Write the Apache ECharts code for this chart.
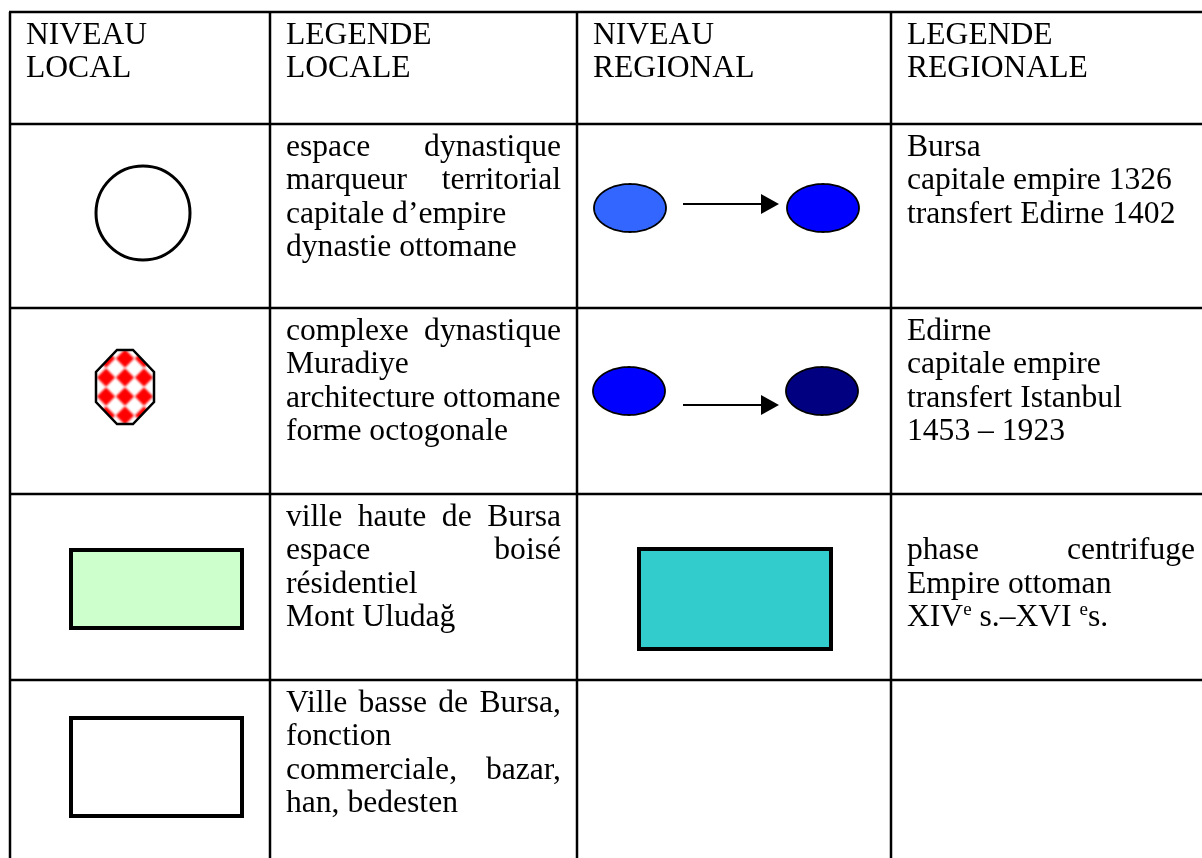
<!DOCTYPE html>
<html><head><meta charset="utf-8">
<script src="https://cdn.jsdelivr.net/npm/echarts@6/dist/echarts.min.js"></script>
<style>html,body{margin:0;padding:0;background:#fff}#c{width:1202px;height:858px}</style>
</head><body><div id="c"></div>
<script>
// ---------- DATA ----------
const columnHeaders = [['NIVEAU','LOCAL'],['LEGENDE','LOCALE'],['NIVEAU','REGIONAL'],['LEGENDE','REGIONALE']];
const localSymbols = ['circle','octagon','rectGreen','rectWhite'];
const localLegend = [
  ['espace dynastique','marqueur territorial','capitale d’empire','dynastie ottomane'],
  ['complexe dynastique','Muradiye','architecture ottomane','forme octogonale'],
  ['ville haute de Bursa','espace boisé','résidentiel','Mont Uludağ'],
  ['Ville basse de Bursa,','fonction','commerciale, bazar,','han, bedesten']
];
const localJustified = [[1,1,0,0],[1,0,0,0],[1,1,0,0],[1,0,1,0]];
const regionalSymbols = ['transfer1','transfer2','rectTeal',null];
const regionalLegend = [
  ['Bursa','capitale empire 1326','transfert Edirne 1402'],
  ['Edirne','capitale empire','transfert Istanbul','1453 – 1923'],
  ['','phase centrifuge','Empire ottoman','XIV{sup|e} s.–XVI {sup|e}s.'],
  []
];
const regionalJustified = [[0,0,0],[0,0,0,0],[0,1,0,0],[]];
const rowIds = [0,1,2,3,4];

// ---------- LAYOUT ----------
const W = 1202, H = 858;
const colEdges = [10, 270, 577, 891, 1211];
const rowEdges = [12, 124, 308, 494, 680, 900];
const FONT_FAMILY = "'Liberation Serif','Times New Roman',serif";
const FS = 31.6, LH = 33.4, FIRST = 23.5, PADL = 16, PADR = 16;
const FONT = FS + 'px ' + FONT_FAMILY;
const mctx = document.createElement('canvas').getContext('2d');
function tw(t){ mctx.font = FONT; return mctx.measureText(t).width; }

const SYM = {
  circle:   {dx:133, dy:89, r:47},
  octagon:  {dx:115, dy:79, hw:29, hh:37, tx:8, sy:15},
  rectGreen:{dx:61, dy:56, w:171, h:78, fill:'#CCFFCC'},
  rectWhite:{dx:61, dy:38, w:171, h:98, fill:'#FFFFFF'},
  rectTeal: {dx:62, dy:55, w:192, h:100, fill:'#33CCCC'},
  transfer1:{e1:53, e2:246, ey:84, rx:36, ry:24, ay:80, a1:106, a2:202, c1:'#3366FF', c2:'#0000FF'},
  transfer2:{e1:52, e2:245, ey:83, rx:36, ry:24, ay:97, a1:106, a2:202, c1:'#0000FF', c2:'#000080'}
};

function makeTile(ox, oy){
  const s = 19, c = document.createElement('canvas');
  c.width = s; c.height = s;
  const g = c.getContext('2d');
  g.fillStyle = '#fff'; g.fillRect(0,0,s,s);
  g.filter = 'blur(0.8px)';
  g.fillStyle = '#ff0000';
  for (let i=-1;i<=1;i++) for (let j=-1;j<=1;j++){
    const x = ox + i*s, y = oy + j*s, h = 9.2;
    g.beginPath(); g.moveTo(x, y-h); g.lineTo(x+h, y); g.lineTo(x, y+h); g.lineTo(x-h, y); g.closePath(); g.fill();
  }
  return c;
}
function mod(a,b){ return ((a % b) + b) % b; }

function ellipsePts(P, cx, cy, rx, ry){
  const pts = [];
  for (let k=0;k<96;k++){ const t = k/96*Math.PI*2; pts.push(P(cx + rx*Math.cos(t), cy + ry*Math.sin(t))); }
  return pts;
}

function symbolEls(kind, left, top, P){
  const g = SYM[kind], els = [];
  if (kind === 'circle'){
    const c = P(left+g.dx, top+g.dy);
    els.push({type:'circle', shape:{cx:c[0], cy:c[1], r:g.r}, style:{fill:'#fff', stroke:'#000', lineWidth:3}});
  } else if (kind === 'octagon'){
    const cx = left+g.dx, cy = top+g.dy;
    const pts = [[-g.tx,-g.hh],[g.tx,-g.hh],[g.hw,-g.sy],[g.hw,g.sy],[g.tx,g.hh],[-g.tx,g.hh],[-g.hw,g.sy],[-g.hw,-g.sy]].map(p => P(cx+p[0], cy+p[1]));
    const c = P(cx, cy);
    const tile = makeTile(mod(c[0],19), mod(c[1]-9.5,19));
    els.push({type:'polygon', shape:{points:pts}, style:{fill:{image:tile, repeat:'repeat'}, stroke:'#000', lineWidth:2.5}});
  } else if (kind.indexOf('rect') === 0){
    const a = P(left+g.dx, top+g.dy), b = P(left+g.dx+g.w, top+g.dy+g.h);
    els.push({type:'rect', shape:{x:a[0], y:a[1], width:b[0]-a[0], height:b[1]-a[1]}, style:{fill:g.fill, stroke:'#000', lineWidth:4}});
  } else if (kind.indexOf('transfer') === 0){
    els.push({type:'polygon', shape:{points:ellipsePts(P, left+g.e1, top+g.ey, g.rx, g.ry)}, style:{fill:g.c1, stroke:'#000', lineWidth:1.8}});
    els.push({type:'polygon', shape:{points:ellipsePts(P, left+g.e2, top+g.ey, g.rx, g.ry)}, style:{fill:g.c2, stroke:'#000', lineWidth:1.8}});
    const a = P(left+g.a1, top+g.ay), b = P(left+g.a2-18, top+g.ay), t = P(left+g.a2, top+g.ay);
    els.push({type:'line', shape:{x1:a[0], y1:a[1], x2:b[0]+2, y2:b[1]}, style:{stroke:'#000', lineWidth:2}});
    els.push({type:'polygon', shape:{points:[[b[0], b[1]-10],[t[0], t[1]],[b[0], b[1]+10]]}, style:{fill:'#000'}});
  }
  return els;
}

function textEls(lines, just, col, top, P){
  const els = [];
  const x0 = colEdges[col] + PADL, x1 = colEdges[col+1] - PADR;
  lines.forEach((ln, i) => {
    if (!ln) return;
    const y = top + FIRST + i*LH;
    const words = ln.split(' ');
    if (just && just[i] && words.length > 1){
      const total = words.reduce((s,w)=>s+tw(w),0);
      const gap = (x1 - x0 - total)/(words.length-1);
      let x = x0;
      words.forEach(w => {
        const p = P(x, y);
        els.push({type:'text', style:{text:w, x:p[0], y:p[1], font:FONT, fill:'#000', align:'left', verticalAlign:'middle', textAlign:'left', textVerticalAlign:'middle'}});
        x += tw(w) + gap;
      });
    } else {
      const p = P(x0, y);
      els.push({type:'text', style:{text:ln, x:p[0], y:p[1], font:FONT, fill:'#000', align:'left', verticalAlign:'middle', textAlign:'left', textVerticalAlign:'middle', lineHeight:LH,
        rich:{sup:{font:'19px '+FONT_FAMILY, fill:'#000', verticalAlign:'top'}}}});
    }
  });
  return els;
}

function renderItem(params, api){
  const r = api.value(0);
  const P = (x,y) => api.coord([x,y]);
  const top = rowEdges[r], bottom = rowEdges[r+1];
  const children = [];
  const a = P(colEdges[0]-1, top), b = P(colEdges[colEdges.length-1], top);
  children.push({type:'line', shape:{x1:a[0], y1:a[1], x2:b[0], y2:b[1]}, style:{stroke:'#000', lineWidth:2.5}});
  colEdges.forEach(cx => {
    const p = P(cx, top), q = P(cx, bottom);
    children.push({type:'line', shape:{x1:p[0], y1:p[1], x2:q[0], y2:q[1]}, style:{stroke:'#000', lineWidth:2.5}});
  });
  if (r === 0){
    columnHeaders.forEach((h, c) => { children.push(...textEls(h, null, c, top, P)); });
  } else {
    const k = r - 1;
    children.push(...symbolEls(localSymbols[k], colEdges[0], top, P));
    children.push(...textEls(localLegend[k], localJustified[k], 1, top, P));
    if (regionalSymbols[k]) children.push(...symbolEls(regionalSymbols[k], colEdges[2], top, P));
    children.push(...textEls(regionalLegend[k], regionalJustified[k], 3, top, P));
  }
  return {type:'group', children};
}

const chart = echarts.init(document.getElementById('c'), null, {renderer:'canvas'});
chart.setOption({
  animation:false,
  backgroundColor:'#ffffff',
  grid:{left:0, right:0, top:0, bottom:0},
  xAxis:{type:'value', min:0, max:W, show:false},
  yAxis:{type:'value', min:0, max:H, inverse:true, show:false},
  series:[{type:'custom', silent:true, clip:false, renderItem, data:rowIds.map(r=>[r])}]
});
</script></body></html>
